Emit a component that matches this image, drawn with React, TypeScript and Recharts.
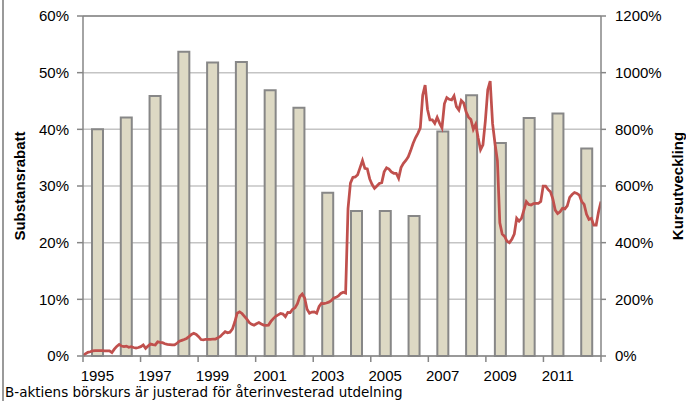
import React from "react";
import {
  ComposedChart,
  Bar,
  Line,
  XAxis,
  YAxis,
  CartesianGrid,
  ReferenceLine,
} from "recharts";

const W = 686;
const H = 401;
const LEFT_W = 83;
const RIGHT_W = 85;

// år och substansrabatt (%), vänster axel
const years = [
  1995, 1996, 1997, 1998, 1999, 2000, 2001, 2002, 2003, 2004, 2005, 2006, 2007,
  2008, 2009, 2010, 2011, 2012,
];
const substansrabatt = [
  40, 42.1, 45.9, 53.7, 51.8, 51.9, 46.9, 43.8, 28.8, 25.6, 25.6, 24.7, 39.6,
  46.0, 37.6, 42.0, 42.8, 36.6,
];

// kursutveckling (%), månadsvis jan 1995 - dec 2012, höger axel
const kursutveckling = [
  // 1995
  0, 8, 13, 15, 18, 19, 19, 19, 19, 18, 18, 18,
  // 1996
  12, 24, 34, 41, 35, 33, 35, 31, 33, 30, 28, 30,
  // 1997
  33, 39, 27, 35, 42, 40, 39, 50, 48, 47, 43, 41,
  // 1998
  40, 39, 39, 45, 52, 55, 58, 62, 68, 76, 80, 76,
  // 1999
  68, 58, 57, 59, 59, 59, 60, 60, 64, 69, 78, 86,
  // 2000
  82, 84, 95, 120, 151, 156, 150, 140, 130, 118, 112, 109,
  // 2001
  114, 118, 113, 109, 108, 109, 122, 132, 140, 145, 150, 148,
  // 2002
  139, 154, 153, 165, 170, 185, 210, 219, 205, 165, 151, 155,
  // 2003
  156, 151, 175, 186, 185, 187, 190, 195, 204, 207, 212, 221,
  // 2004
  225, 222, 520, 610, 630, 632, 640, 665, 690, 662, 660, 625,
  // 2005
  605, 592, 600, 609, 612, 650, 664, 660, 650, 645, 645, 627,
  // 2006
  665, 680, 690, 703, 725, 750, 770, 786, 805, 920, 956, 870,
  // 2007
  833, 833, 821, 842, 822, 805, 890, 912, 906, 904, 918, 880,
  // 2008
  868, 902, 893, 862, 843, 835, 800, 818, 770, 728, 745, 830,
  // 2009
  940, 970, 820, 750, 690, 470, 430, 422, 405, 400, 412, 430,
  // 2010
  486, 476, 486, 515, 545, 535, 533, 538, 539, 539, 545, 600,
  // 2011
  600, 588, 580, 555, 515, 503, 509, 521, 519, 530, 560, 570,
  // 2012
  577, 574, 568, 545, 535, 500, 482, 486, 462, 462, 510, 545,
];

const leftTicks = [0, 10, 20, 30, 40, 50, 60];
const rightTicks = [0, 200, 400, 600, 800, 1000, 1200];
const yearTicks = [1995, 1997, 1999, 2001, 2003, 2005, 2007, 2009, 2011, 2013];

const START = years[0];
const END = years[years.length - 1] + 1;

const barData = years.map((y, i) => ({ x: y + 0.5, rabatt: substansrabatt[i] }));
const lineData = kursutveckling.map((v, i) => ({
  t: START + (i * (END - START)) / (kursutveckling.length - 1),
  kurs: v,
}));

const halfYear = (W - LEFT_W - RIGHT_W) / (END - START) / 2;
const axisColor = "#868686";
const font = "'Liberation Sans', Arial, sans-serif";

function YearTick(props: any) {
  const { x, y, payload } = props;
  if (payload.value >= END) return <g />;
  return (
    <text
      x={x + halfYear}
      y={y}
      dy="0.71em"
      textAnchor="middle"
      fontSize={15}
      fontFamily={font}
      fill="#000"
    >
      {payload.value}
    </text>
  );
}

export default function App() {
  return (
    <div
      style={{
        position: "absolute",
        left: 0,
        top: 0,
        width: W,
        height: H,
        background: "#fff",
        overflow: "hidden",
      }}
    >
      <div
        style={{
          position: "absolute",
          left: 2,
          top: 0,
          width: 2,
          height: H,
          background: "#9a9a9a",
        }}
      />
      <ComposedChart
        width={W}
        height={H}
        data={barData}
        margin={{ top: 16, right: 0, bottom: 0, left: 0 }}
        style={{ fontFamily: font }}
      >
        <CartesianGrid
          vertical={false}
          xAxisId="years"
          yAxisId="left"
          stroke="#c4c4c4"
          strokeWidth={1.5}
        />
        <XAxis
          xAxisId="months"
          dataKey="t"
          type="number"
          domain={[START, END]}
          allowDataOverflow
          height={0}
          hide
        />
        <XAxis
          xAxisId="years"
          dataKey="x"
          type="number"
          domain={[START, END]}
          allowDataOverflow
          ticks={yearTicks}
          interval={0}
          height={45}
          tick={<YearTick />}
          tickSize={6}
          tickMargin={8}
          stroke={axisColor}
          strokeWidth={1.5}
        />
        <YAxis
          yAxisId="left"
          width={LEFT_W}
          domain={[0, 60]}
          ticks={leftTicks}
          tickFormatter={(v) => `${v}%`}
          tick={{ fontSize: 15, fill: "#000" }}
          tickSize={6}
          tickMargin={8}
          stroke={axisColor}
          strokeWidth={1.5}
          label={{
            value: "Substansrabatt",
            angle: -90,
            position: "insideLeft",
            offset: 20,
            style: { textAnchor: "middle", fontWeight: "bold", fontSize: 15, fill: "#000" },
          }}
        />
        <YAxis
          yAxisId="right"
          orientation="right"
          width={RIGHT_W}
          domain={[0, 1200]}
          ticks={rightTicks}
          tickFormatter={(v) => `${v}%`}
          tick={{ fontSize: 15, fill: "#000", textAnchor: "start" }}
          tickSize={5}
          tickMargin={9}
          stroke={axisColor}
          strokeWidth={1.5}
          label={{
            value: "Kursutveckling",
            angle: -90,
            position: "insideRight",
            offset: 8,
            style: { textAnchor: "middle", fontWeight: "bold", fontSize: 15, fill: "#000" },
          }}
        />
        <ReferenceLine
          xAxisId="years"
          yAxisId="left"
          y={60}
          stroke={axisColor}
          strokeWidth={1.5}
        />
        <Bar
          xAxisId="years"
          yAxisId="left"
          dataKey="rabatt"
          barSize={11}
          fill="#ddd9c4"
          stroke="#878787"
          strokeWidth={2}
          isAnimationActive={false}
        />
        <Line
          xAxisId="months"
          yAxisId="right"
          data={lineData}
          dataKey="kurs"
          type="linear"
          stroke="#c0504d"
          strokeWidth={2.75}
          dot={false}
          isAnimationActive={false}
        />
      </ComposedChart>
      <div
        style={{
          position: "absolute",
          left: 5,
          top: 384,
          fontFamily: "'DejaVu Sans', Verdana, sans-serif",
          fontSize: 13.5,
          color: "#000",
          whiteSpace: "nowrap",
        }}
      >
        B-aktiens börskurs är justerad för återinvesterad utdelning
      </div>
    </div>
  );
}
